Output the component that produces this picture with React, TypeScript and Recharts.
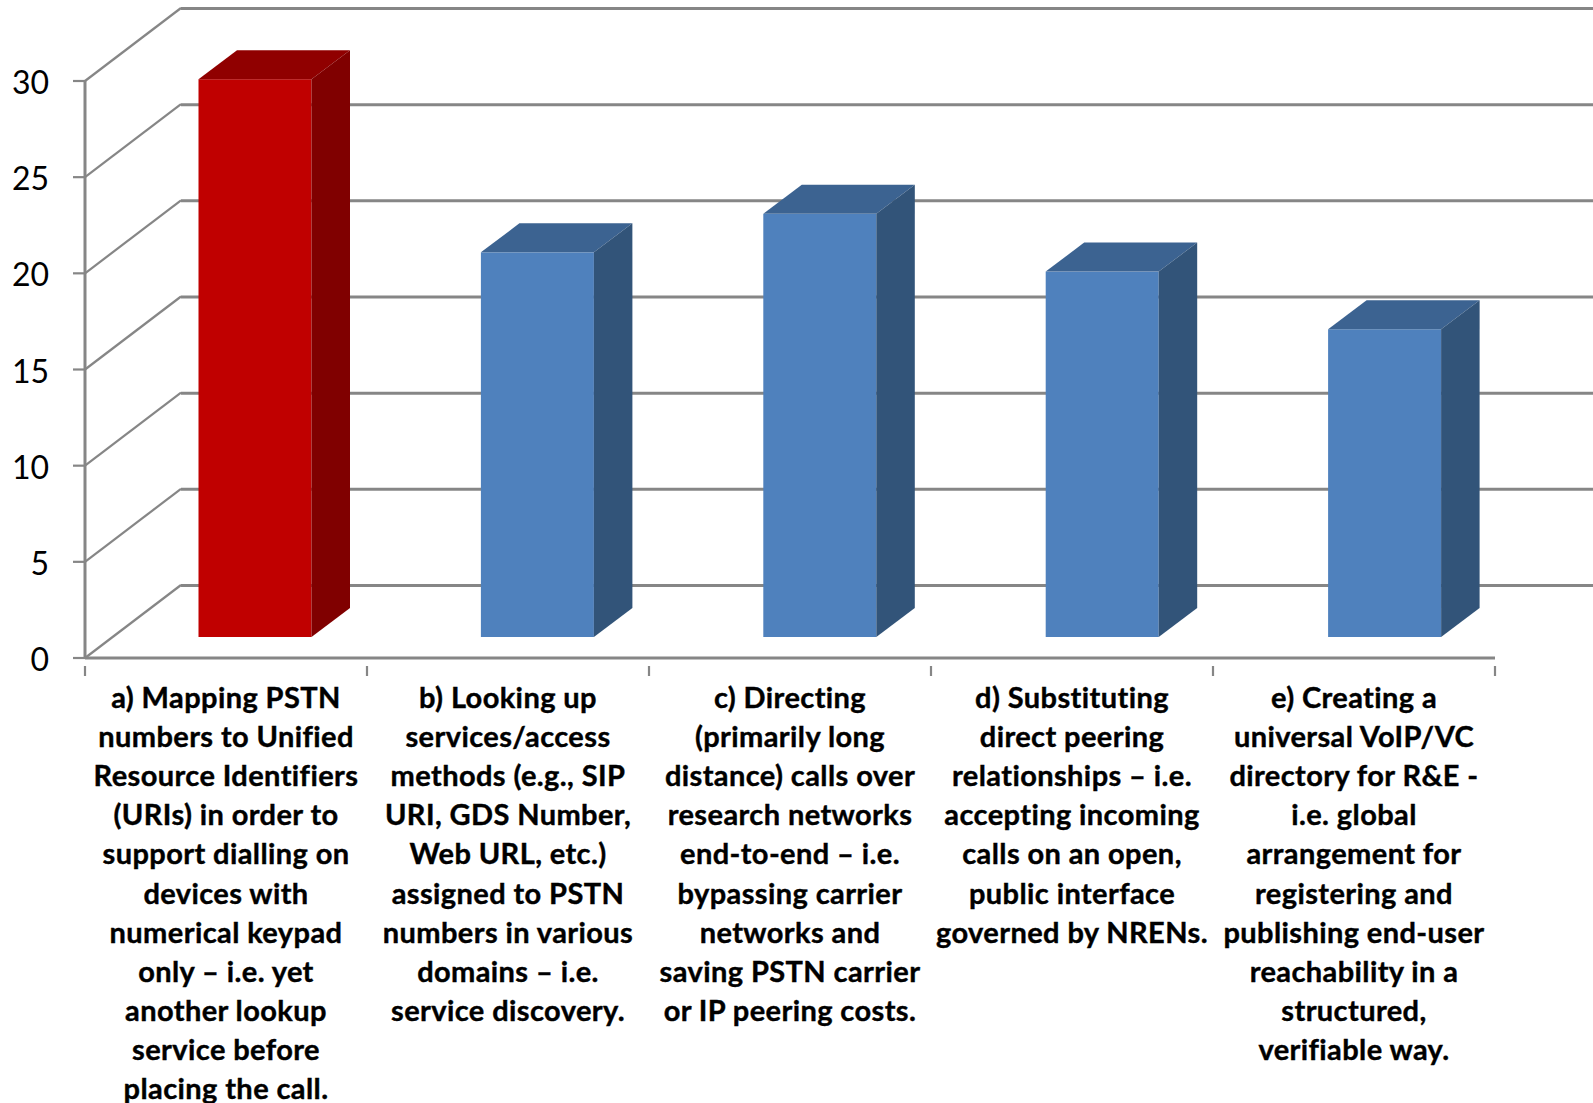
import { BarChart, Bar, XAxis, YAxis, CartesianGrid } from 'recharts'

const categoryLines = [
  ['a) Mapping PSTN', 'numbers to Unified', 'Resource Identifiers', '(URIs) in order to', 'support dialling on', 'devices with', 'numerical keypad', 'only – i.e. yet', 'another lookup', 'service before', 'placing the call.'],
  ['b) Looking up', 'services/access', 'methods (e.g., SIP', 'URI, GDS Number,', 'Web URL, etc.)', 'assigned to PSTN', 'numbers in various', 'domains – i.e.', 'service discovery.'],
  ['c) Directing', '(primarily long', 'distance) calls over', 'research networks', 'end-to-end – i.e.', 'bypassing carrier', 'networks and', 'saving PSTN carrier', 'or IP peering costs.'],
  ['d) Substituting', 'direct peering', 'relationships – i.e.', 'accepting incoming', 'calls on an open,', 'public interface', 'governed by NRENs.'],
  ['e) Creating a', 'universal VoIP/VC', 'directory for R&E -', 'i.e. global', 'arrangement for', 'registering and', 'publishing end-user', 'reachability in a', 'structured,', 'verifiable way.'],
]
const values = [29, 20, 22, 19, 16]
const yTicks = [0, 5, 10, 15, 20, 25, 30]

const BLUE = { front: '#4f81bd', side: '#325479', top: '#3c6391' }
const RED = { front: '#c00000', side: '#800000', top: '#900000' }
const barColors = [RED, BLUE, BLUE, BLUE, BLUE]

const chartData = categoryLines.map((lines, i) => ({ name: lines.join(' '), value: values[i] }))

const AXIS = '#868686'
const FONT = 'Lato, sans-serif'
const BAND = 282
// depth of the fake 3D box
const WALL_DX = 96
const WALL_DY = 73
const BAR_DX = 38.5
const BAR_DY = 29
// bars sit part way into the floor
const BAR_SHIFT_X = 28.5
const BAR_SHIFT_Y = 21

function WallLine(props: any) {
  const { x1, x2, y1 } = props
  return (
    <g fill="none" stroke={AXIS}>
      <line x1={x1} y1={y1} x2={x1 + WALL_DX} y2={y1 - WALL_DY} strokeWidth={2.2} />
      <line x1={x1 + WALL_DX} y1={y1 - WALL_DY + 0.5} x2={x2 + 98} y2={y1 - WALL_DY + 0.5} strokeWidth={3} />
    </g>
  )
}

function Box3D(props: any) {
  const { x, y, width, height, index } = props
  const c = barColors[index]
  const l = x + BAR_SHIFT_X + index * 0.4
  const r = l + width
  const t = y - BAR_SHIFT_Y
  const b = t + height
  return (
    <g>
      <rect x={l} y={t} width={width} height={height} fill={c.front} />
      <polygon points={`${l},${t} ${l + BAR_DX},${t - BAR_DY} ${r + BAR_DX},${t - BAR_DY} ${r},${t}`} fill={c.top} />
      <polygon points={`${r},${t} ${r + BAR_DX},${t - BAR_DY} ${r + BAR_DX},${b - BAR_DY} ${r},${b}`} fill={c.side} />
    </g>
  )
}

function CategoryTick(props: any) {
  const { x, y, index } = props
  const lines = categoryLines[index]
  return (
    <g>
      <line x1={x - BAND / 2} y1={y} x2={x - BAND / 2} y2={y + 10} stroke={AXIS} strokeWidth={2.2} />
      {index === categoryLines.length - 1 && (
        <line x1={x + BAND / 2} y1={y} x2={x + BAND / 2} y2={y + 10} stroke={AXIS} strokeWidth={2.2} />
      )}
      <text
        textAnchor="middle"
        fontFamily={FONT}
        fontWeight={700}
        fontSize={29}
        letterSpacing={0.4}
        fill="#000"
        stroke="#000"
        strokeWidth={0.4}
      >
        {lines.map((line, i) => (
          <tspan key={i} x={x} y={y + 42 + i * 39.1}>{line}</tspan>
        ))}
      </text>
    </g>
  )
}

function ValueTick(props: any) {
  const { x, y, payload } = props
  return (
    <text x={x} y={y + 13} textAnchor="end" fontFamily={FONT} fontSize={32} fill="#000">
      {payload.value}
    </text>
  )
}

export default function App() {
  return (
    <div style={{ position: 'absolute', left: 0, top: 0, width: 1593, height: 1103, overflow: 'hidden', background: '#fff' }}>
      <BarChart width={1593} height={1103} data={chartData} margin={{ top: 81, right: 98, bottom: 0, left: 0 }}>
        <CartesianGrid vertical={false} horizontal={WallLine} />
        <XAxis
          dataKey="name"
          height={445}
          interval={0}
          tickLine={false}
          axisLine={{ stroke: AXIS, strokeWidth: 3 }}
          tick={CategoryTick}
        />
        <YAxis
          width={85}
          domain={[0, 30]}
          ticks={yTicks}
          tickSize={12}
          tickMargin={24}
          axisLine={{ stroke: AXIS, strokeWidth: 3 }}
          tickLine={{ stroke: AXIS, strokeWidth: 2.2 }}
          tick={ValueTick}
        />
        <Bar dataKey="value" barSize={113} shape={Box3D} isAnimationActive={false} />
      </BarChart>
    </div>
  )
}
